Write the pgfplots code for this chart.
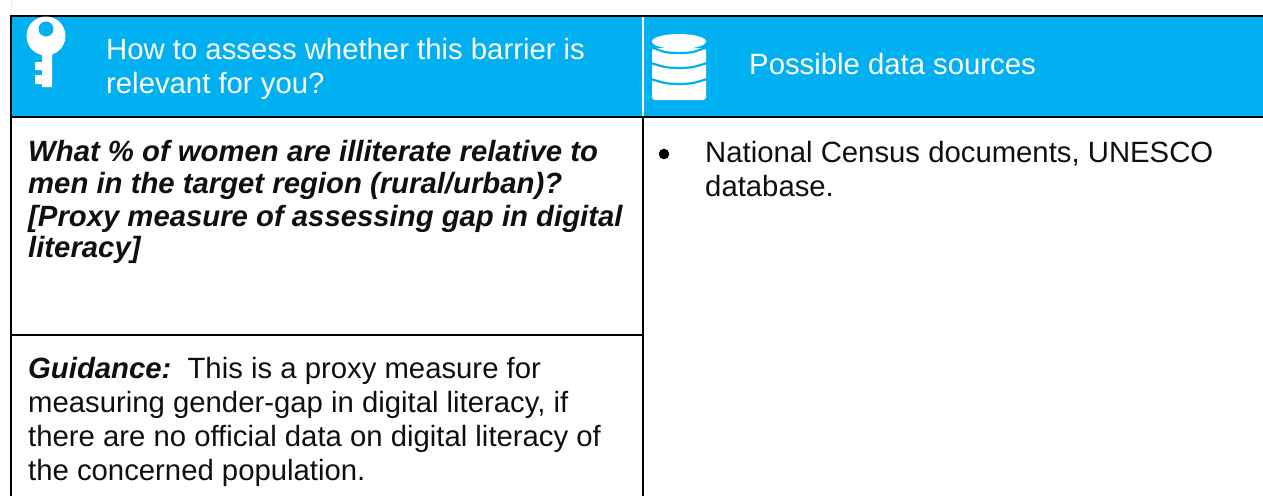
\documentclass[border=0pt]{standalone}
\usepackage{pgfplots}
\pgfplotsset{compat=1.18}
\usepackage{fontspec}
\setmainfont{Liberation Sans}
\definecolor{hdr}{RGB}{0,176,240}
\definecolor{txt}{RGB}{15,15,15}
\newcommand{\T}[4][txt]{\node[anchor=base west,inner sep=0pt,text=#1,font=\fontsize{29.3}{33}\selectfont] at (axis cs:#2,#3) {\strut #4};}
\begin{document}
\begin{tikzpicture}
\begin{axis}[scale only axis,width=1263pt,height=496pt,xmin=0,xmax=1263,ymin=0,ymax=496,y dir=reverse,axis lines=none,clip=false]
% header band
\addplot[draw=none,fill=hdr] coordinates {(11,16) (1263,16) (1263,117) (11,117)} \closedcycle;
% rules
\addplot[black,line width=2pt] coordinates {(10,16) (1263,16)};
\addplot[black,line width=2pt] coordinates {(10,117) (1263,117)};
\addplot[black,line width=2pt] coordinates {(11,15) (11,496)};
\addplot[black,line width=2pt] coordinates {(643,117) (643,496)};
\addplot[white,line width=2pt] coordinates {(643,17) (643,116)};
\addplot[black,line width=2pt] coordinates {(11,335) (643,335)};
% key icon
\fill[white] (axis cs:46,36) circle[radius=19.5pt];
\fill[hdr] (axis cs:46,29) circle[radius=7.5pt];
\addplot[draw=none,fill=white] coordinates {(42,50) (52,50) (52,87) (42,87) (42,84) (35,84) (35,75) (42,75) (42,70) (35,70) (35,62) (42,62)} \closedcycle;
% database icon
\fill[white,rounded corners=3pt] (axis cs:652,48) rectangle (axis cs:706,100);
\fill[white] (axis cs:679,41.5) ellipse[x radius=27pt,y radius=7.5pt];
\addplot[hdr,line width=2.2pt,smooth] coordinates {(651,47) (665,52) (679,53) (693,52) (707,47)};
\addplot[hdr,line width=2.2pt,smooth] coordinates {(651,63) (665,67) (679,68) (693,67) (707,63)};
\addplot[hdr,line width=2.2pt,smooth] coordinates {(651,79) (665,83) (679,84) (693,83) (707,79)};
% text
\T[white]{106}{59.5}{How to assess whether this barrier is}
\T[white]{106}{93.5}{relevant for you?}
\T[white]{749}{74}{Possible data sources}
\T{28}{161}{\textbf{\textit{What \% of women are illiterate relative to}}}
\T{28}{193.5}{\textbf{\textit{men in the target region (rural/urban)?}}}
\T{28}{226}{\textbf{\textit{[Proxy measure of assessing gap in digital}}}
\T{28}{257}{\textbf{\textit{literacy]}}}
\T{28}{378}{\textbf{\textit{Guidance:}}\hspace{0.55em}This is a proxy measure for}
\T{28}{412.5}{measuring gender-gap in digital literacy, if}
\T{28}{446.5}{there are no official data on digital literacy of}
\T{28}{480.5}{the concerned population.}
\fill[black] (axis cs:664,154) circle[radius=5.3pt];
\T{705}{162.5}{National Census documents, UNESCO}
\T{705}{196.5}{database.}
\end{axis}
\pgfresetboundingbox
\useasboundingbox (0,0) rectangle (1263pt,496pt);
\end{tikzpicture}
\end{document}
